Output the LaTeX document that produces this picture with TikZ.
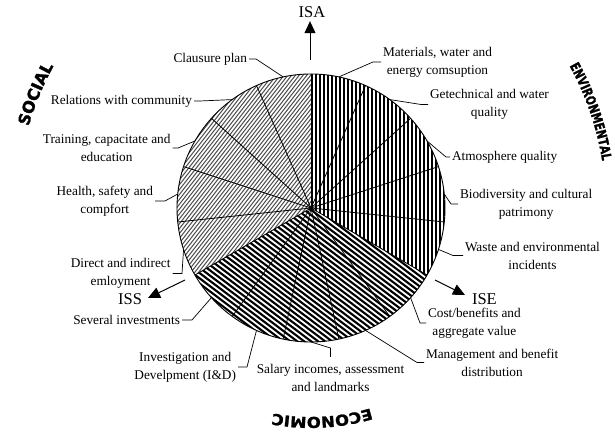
\documentclass[tikz,border=0pt]{standalone}
\usepackage{fontspec}
\setmainfont{Liberation Serif}
\newfontfamily\envfont[FakeStretch=0.77,FakeBold=1.6]{DejaVu Sans}
\newfontfamily\socfont[FakeBold=1.6]{DejaVu Sans}
\newfontfamily\ecofont[FakeStretch=1.09,FakeBold=1.6]{DejaVu Sans}
\usetikzlibrary{decorations.text,arrows.meta,calc}
\begin{document}
\begin{tikzpicture}[x=1pt,y=1pt,
  lab/.style={font=\fontsize{13.3}{18}\selectfont, align=center, inner xsep=2pt, inner ysep=0pt, outer sep=0pt},
  lead/.style={line width=0.7pt},
  isx/.style={font=\fontsize{16.5}{18}\selectfont, inner sep=0pt, outer sep=0pt},
  isarrow/.style={line width=1pt, -{Triangle[length=12pt,width=11pt]}},
  sepline/.style={line width=0.8pt},
  envhatch/.style={line width=1.3pt},
  sochatch/.style={line width=1pt, black!70},
  ecohatch/.style={line width=2.1pt},
]
\fill[white] (0,0) rectangle (615,435);
\useasboundingbox (0,0) rectangle (615,435);
\coordinate (C) at (311,227);
% sectors (hatching drawn directly, clipped to each sector)
\begin{scope}[shift={(C)}]
  \begin{scope}
    \clip (0,0) -- (90:134) arc[start angle=90,end angle=-30,radius=134] -- cycle;
    \foreach \x in {1,5,...,137} \draw[envhatch] (\x,-140) -- (\x,140);
  \end{scope}
  \begin{scope}
    \clip (0,0) -- (-30:134) arc[start angle=-30,end angle=-150,radius=134] -- cycle;
    \begin{scope}[rotate=-37]
      \foreach \y in {-140,-135.8,...,140} \draw[ecohatch] (-145,\y) -- (145,\y);
    \end{scope}
  \end{scope}
  \begin{scope}
    \clip (0,0) -- (210:134) arc[start angle=210,end angle=90,radius=134] -- cycle;
    \begin{scope}[rotate=52]
      \foreach \y in {-140,-137,...,140} \draw[sochatch] (-145,\y) -- (145,\y);
    \end{scope}
  \end{scope}
\end{scope}
\foreach \a in {90,66,42,18,-6,-30,-54,-78,-102,-126,-150,-174,162,138,114}
  \draw[sepline] (C) -- ++(\a:134);
\draw[line width=0.9pt] (C) circle[radius=134];
% leader start points on the arc
\foreach \n/\a in {1/78,2/54,3/30,4/6,5/-18,6/-42,7/-66,8/-90,9/-114,10/-138,11/198,12/174,13/150,14/126,15/102}
  \coordinate (p\n) at ($(C)+(\a:134)$);
% environmental labels
\node[lab,anchor=west] (mat) at (381,373) {Materials, water and\\energy comsuption};
\draw[lead] (p1) -- (373,373) -- (mat.west);
\node[lab,anchor=west] (geo) at (428,330.5) {Getechnical and water\\quality};
\draw[lead] (p2) -- (421,330.5) -- (geo.west);
\node[lab,anchor=west] (atm) at (450,278) {Atmosphere quality};
\draw[lead] (p3) -- (446,278) -- (atm.west);
\node[lab,anchor=west] (bio) at (458,231) {Biodiversity and cultural\\patrimony};
\draw[lead] (p4) -- (451,231) -- (bio.west);
\node[lab,anchor=west] (was) at (463,179.5) {Waste and environmental\\incidents};
\draw[lead] (p5) -- (453,179.5) -- (was.west);
% economic labels
\node[lab,anchor=west] (cost) at (426,112) {Cost/benefits and\\aggregate value};
\draw[lead] (p6) -- (420,112) -- (cost.west);
\node[lab,anchor=west] (man) at (424,72.5) {Management and benefit\\distribution};
\draw[lead] (p7) -- (417,72.5) -- (man.west);
\node[lab,anchor=north] (sal) at (330.5,71) {Salary incomes, assessment\\and landmarks};
\draw[lead] (p8) -- (330.5,87) -- ([yshift=7pt]sal.north);
\node[lab,anchor=east] (inv) at (238,68) {Investigation and\\Develpment (I\&D)};
\draw[lead] (p9) -- (247,68) -- (inv.east);
\node[lab,anchor=east] (sev) at (182,115) {Several investments};
\draw[lead] (p10) -- (192,115) -- (sev.east);
% social labels
\node[lab,anchor=east] (dir) at (172.5,161.5) {Direct and indirect\\emloyment};
\draw[lead] (p11) -- (182,161.5) -- (dir.east);
\node[lab,anchor=east] (hea) at (155,234) {Health, safety and\\compfort};
\draw[lead] (p12) -- (165,234) -- (hea.east);
\node[lab,anchor=east] (tra) at (172.5,287) {Training, capacitate and\\education};
\draw[lead] (p13) -- (178,287) -- (tra.east);
\node[lab,anchor=east] (rel) at (194,334) {Relations with community};
\draw[lead] (p14) -- (200,334) -- (rel.east);
\node[lab,anchor=east] (cla) at (249,376) {Clausure plan};
\draw[lead] (p15) -- (256,376) -- (cla.east);
% indicator arrows
\node[isx,anchor=base] (isa) at (312,417) {ISA};
\coordinate (isaS) at (310,375);
\draw[isarrow,shorten >=3pt] (isaS) -- (isaS |- isa.south);
\node[isx,anchor=base west] (ise) at (472,130) {ISE};
\coordinate (iseS) at (435,155);
\coordinate (iseT) at (465,140);
\draw[isarrow] (iseS) -- (iseT);
\node[isx,anchor=base east] (iss) at (142,130) {ISS};
\coordinate (issS) at (185,155);
\coordinate (issT) at (148,137);
\draw[isarrow] (issS) -- (issT);
% curved group titles
\path[decorate,decoration={text along path,text align=center,
  text={|\envfont\bfseries\fontsize{13.5}{14}\selectfont|ENVIRONMENTAL}}]
  ($(C)+(40:295)$) arc[start angle=40,end angle=-2,radius=295];
\path[decorate,decoration={text along path,text align=center,
  text={|\socfont\bfseries\fontsize{16}{17}\selectfont|SOCIAL}}]
  ($(C)+(170:294)$) arc[start angle=170,end angle=145,radius=294];
\path[decorate,decoration={text along path,text align=center,
  text={|\ecofont\bfseries\fontsize{15}{16}\selectfont|ECONOMIC}}]
  ($(C)+(-70:209)$) arc[start angle=-70,end angle=-104,radius=209];
\end{tikzpicture}
\end{document}
